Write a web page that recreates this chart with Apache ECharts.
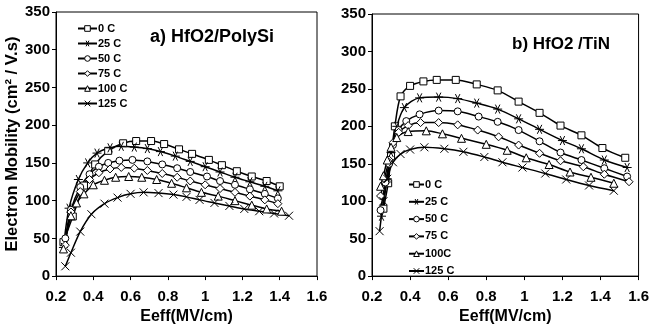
<!DOCTYPE html>
<html><head><meta charset="utf-8">
<script src="https://cdn.jsdelivr.net/npm/echarts@6/dist/echarts.min.js"></script>
<style>html,body{margin:0;padding:0;background:#fff}#c{width:652px;height:330px}</style>
</head><body><div id="c"></div>
<script>
// Panel a) HfO2/PolySi : [Eeff, mobility]
const a_0C   = [[0.24,45],[0.29,79],[0.35,120],[0.41,148],[0.48,166],[0.56,176],[0.63,179],[0.71,179],[0.78,175],[0.86,168],[0.93,162],[1.02,154],[1.09,147],[1.17,139],[1.25,132],[1.33,126],[1.40,119]];
const a_25C  = [[0.24,38],[0.27,90],[0.32,128],[0.37,150],[0.42,163],[0.49,170],[0.55,172],[0.62,171],[0.69,169],[0.76,165],[0.84,159],[0.92,152],[1.00,145],[1.08,138],[1.16,131],[1.24,125],[1.32,119],[1.39,113]];
const a_50C  = [[0.25,50],[0.28,88],[0.33,118],[0.38,135],[0.43,145],[0.48,150],[0.54,153],[0.61,154],[0.69,152],[0.77,148],[0.85,143],[0.92,138],[1.01,132],[1.08,126],[1.16,121],[1.24,115],[1.32,109],[1.39,103]];
const a_75C  = [[0.25,41],[0.28,85],[0.33,112],[0.38,128],[0.43,137],[0.49,142],[0.55,144],[0.62,143],[0.69,140],[0.77,136],[0.85,131],[0.92,126],[1.00,121],[1.08,116],[1.16,111],[1.24,106],[1.32,101],[1.39,96]];
const a_100C = [[0.24,36],[0.28,80],[0.31,97],[0.35,109],[0.40,121],[0.46,127],[0.52,131],[0.59,132],[0.66,131],[0.74,128],[0.82,123],[0.90,117],[0.98,111],[1.07,106],[1.16,100],[1.25,94],[1.33,89],[1.41,86]];
const a_125C = [[0.25,13],[0.28,31],[0.33,59],[0.39,82],[0.46,96],[0.53,104],[0.60,109],[0.67,111],[0.75,110],[0.83,108],[0.90,105],[0.97,101],[1.05,97],[1.13,93],[1.21,89],[1.29,86],[1.37,83],[1.45,80]];
// Panel b) HfO2 /TiN
const b_0C   = [[0.26,90],[0.285,124],[0.30,160],[0.32,200],[0.35,240],[0.40,254],[0.47,260],[0.54,262],[0.64,262],[0.75,256],[0.86,248],[0.97,233],[1.08,218],[1.19,201],[1.30,188],[1.41,171],[1.53,158]];
const b_25C  = [[0.25,80],[0.28,130],[0.30,165],[0.33,200],[0.37,225],[0.45,238],[0.55,239],[0.65,237],[0.75,231],[0.86,223],[0.97,210],[1.08,196],[1.20,181],[1.30,170],[1.42,155],[1.54,145]];
const b_50C  = [[0.245,88],[0.27,125],[0.29,150],[0.31,175],[0.34,195],[0.38,207],[0.45,216],[0.55,221],[0.65,220],[0.76,213],[0.86,206],[0.97,195],[1.08,180],[1.19,165],[1.30,155],[1.42,144],[1.54,133]];
const b_75C  = [[0.245,107],[0.265,130],[0.29,155],[0.31,178],[0.34,192],[0.39,201],[0.455,205],[0.55,205],[0.65,202],[0.755,195],[0.865,186],[0.97,175],[1.08,164],[1.19,154],[1.31,146],[1.42,136],[1.55,126]];
const b_100C = [[0.245,120],[0.26,134],[0.28,155],[0.30,172],[0.33,185],[0.39,193],[0.485,194],[0.57,190],[0.67,184],[0.80,176],[0.91,168],[1.01,158],[1.13,149],[1.24,139],[1.35,132],[1.47,124]];
const b_125C = [[0.24,60],[0.26,100],[0.28,130],[0.31,152],[0.35,163],[0.40,169],[0.475,172],[0.58,170],[0.68,166],[0.79,159],[0.885,152],[0.99,145],[1.11,137],[1.22,129],[1.34,121],[1.47,114]];

const namesA = ['0 C','25 C','50 C','75 C','100 C','125 C'];
const namesB = ['0 C','25 C','50 C','75 C','100C','125 C'];
const xTicks = {min:0.2, max:1.6, interval:0.2};
const yTicks = {min:0, max:350, interval:50};

const SYM_X = 'path://M0 0 L10 10 M10 0 L0 10';
const SYM_AST = 'path://M0 5 L10 5 M2.5 0.7 L7.5 9.3 M2.5 9.3 L7.5 0.7';
const symbols = ['rect', SYM_AST, 'circle', 'diamond', 'triangle', SYM_X];
const sizes = [7, 9, 7, 8, 8, 8];
const dataA = [a_0C,a_25C,a_50C,a_75C,a_100C,a_125C];
const dataB = [b_0C,b_25C,b_50C,b_75C,b_100C,b_125C];

function mk(name, data, i, gi){
  const open = !(i===1 || i===5);
  return {
    type:'line', name, data, xAxisIndex:gi, yAxisIndex:gi,
    smooth:0.3, symbol:symbols[i], symbolSize:sizes[i], showAllSymbol:true,
    color:'#000',
    lineStyle:{color:'#000', width:1.5},
    itemStyle:{color: open ? '#fff' : '#000', borderColor:'#000', borderWidth:1},
    emphasis:{disabled:true}, animation:false
  };
}
const series = [];
dataA.forEach((d,i)=>series.push(mk(namesA[i], d, i, 0)));
dataB.forEach((d,i)=>series.push(mk(namesB[i], d, i, 1)));

const font = 'Liberation Sans, Arial, sans-serif';
function xAx(gi){
  return {type:'value', gridIndex:gi, ...xTicks, name:'Eeff(MV/cm)', nameLocation:'middle', nameGap:32,
    nameTextStyle:{fontFamily:font, fontWeight:'bold', fontSize:16, color:'#000'},
    axisLine:{lineStyle:{color:'#000', width:1}}, axisTick:{show:true, length:4, lineStyle:{color:'#000'}},
    axisLabel:{fontFamily:font, fontWeight:'bold', fontSize:15, color:'#000', margin:13},
    splitLine:{show:false}};
}
function yAx(gi, withName){
  return {type:'value', gridIndex:gi, ...yTicks,
    name: withName ? 'Electron Mobility (cm² / V.s)' : '', nameLocation:'middle', nameGap:30, nameRotate:90,
    nameTextStyle:{fontFamily:font, fontWeight:'bold', fontSize:16.5, color:'#000'},
    axisLine:{lineStyle:{color:'#000', width:1}}, axisTick:{show:true, length:4, lineStyle:{color:'#000'}},
    axisLabel:{fontFamily:font, fontWeight:'bold', fontSize:15, color:'#000', margin:6},
    splitLine:{show:false}};
}
const legItem = {color:'#fff', borderColor:'#000', borderWidth:1};

const chart = echarts.init(document.getElementById('c'), null, {renderer:'canvas'});
chart.setOption({
  backgroundColor:'#fff',
  animation:false,
  grid:[
    {left:56, top:12, width:261, height:267, show:true, borderColor:'#000', borderWidth:1, backgroundColor:'transparent'},
    {left:372, top:14, width:269, height:266, show:true, borderColor:'#000', borderWidth:1, backgroundColor:'transparent'}
  ],
  xAxis:[xAx(0), xAx(1)],
  yAxis:[yAx(0,true), yAx(1,false)],
  legend:[
    {data:namesA, orient:'vertical', left:72, top:18, itemWidth:19, itemHeight:7, itemGap:4, itemStyle:legItem,
      textStyle:{fontFamily:font, fontWeight:'bold', fontSize:11, color:'#000', padding:[0,0,0,-4]}, selectedMode:false},
    {data:namesB, orient:'vertical', left:403, top:174, itemWidth:15, itemHeight:7, itemGap:6.3, itemStyle:legItem,
      textStyle:{fontFamily:font, fontWeight:'bold', fontSize:11, color:'#000', padding:[0,0,0,-4]}, selectedMode:false}
  ],
  graphic:[
    {type:'text', left:150, top:28, style:{text:'a) HfO2/PolySi', fontFamily:font, fontWeight:'bold', fontSize:18, fill:'#000'}},
    {type:'text', left:512, top:36, style:{text:'b) HfO2 /TiN', fontFamily:font, fontWeight:'bold', fontSize:17, fill:'#000'}}
  ],
  series
});
</script></body></html>
